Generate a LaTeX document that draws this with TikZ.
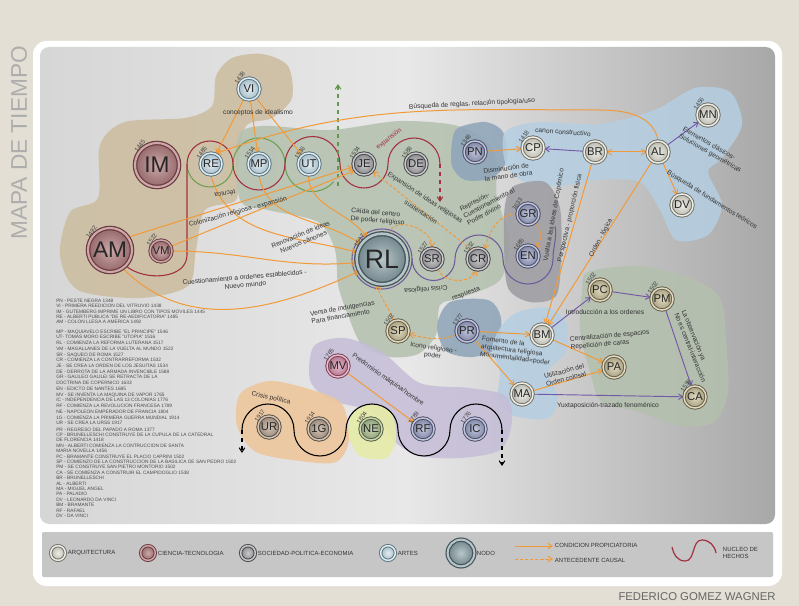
\documentclass[tikz,border=0pt]{standalone}
\usepackage{fontspec}
\setmainfont{Liberation Sans}
\usetikzlibrary{arrows.meta,shadows}

\definecolor{bgbeige}{HTML}{E4DFD5}
\definecolor{panL}{HTML}{D6D6D6}
\definecolor{panM}{HTML}{E8E8E8}
\definecolor{panR}{HTML}{A8A8A8}
\definecolor{legbox}{HTML}{C6C6C6}
\definecolor{orangeE}{HTML}{F29A38}
\definecolor{propE}{HTML}{7458A8}
\definecolor{nucRed}{HTML}{A3303F}
\definecolor{nucGreen}{HTML}{6FA052}
\definecolor{nucPurple}{HTML}{6E5C9C}
\definecolor{greenD}{HTML}{5E9A4A}
% manchas
\definecolor{blTan}{HTML}{CBBC9E}
\definecolor{blSage}{HTML}{B3C0AE}
\definecolor{blSteel}{HTML}{8DA4B9}
\definecolor{blSky}{HTML}{B5CFE2}
\definecolor{blGray}{HTML}{9C9CA1}
\definecolor{blLav}{HTML}{C5BDD7}
\definecolor{blPeach}{HTML}{EDC79D}
\definecolor{blYell}{HTML}{E6EBA8}
% botones
\definecolor{aI}{HTML}{EEEEE8}\definecolor{aO}{HTML}{B9B9AF}\definecolor{aR}{HTML}{707066}
\definecolor{oI}{HTML}{E2DAC0}\definecolor{oO}{HTML}{A69E7E}\definecolor{oR}{HTML}{645E48}
\definecolor{cI}{HTML}{CCA8A8}\definecolor{cO}{HTML}{94686A}\definecolor{cR}{HTML}{6C3A40}
\definecolor{sI}{HTML}{CACACC}\definecolor{sO}{HTML}{88888C}\definecolor{sR}{HTML}{46464A}
\definecolor{bI}{HTML}{C2C6DA}\definecolor{bO}{HTML}{7C82A2}\definecolor{bR}{HTML}{484C68}
\definecolor{rI}{HTML}{E4EEF2}\definecolor{rO}{HTML}{A2BAC6}\definecolor{rR}{HTML}{5A7480}
\definecolor{pI}{HTML}{E8BCCA}\definecolor{pO}{HTML}{B0708A}\definecolor{pR}{HTML}{783E56}
\definecolor{uI}{HTML}{D2C4B6}\definecolor{uO}{HTML}{968676}\definecolor{uR}{HTML}{574B40}
\definecolor{vI}{HTML}{CAD6B6}\definecolor{vO}{HTML}{8A9A74}\definecolor{vR}{HTML}{525E3C}
\definecolor{dI}{HTML}{B8C6CA}\definecolor{dO}{HTML}{708489}\definecolor{dR}{HTML}{44555B}

\pgfdeclarelayer{bg}
\pgfdeclarelayer{links}
\pgfsetlayers{bg,links,main}

\tikzset{
  barb/.tip={Straight Barb[length=3.2pt,width=4.2pt]},
  knot/.style={circle, inner sep=0pt, minimum size=16.5pt, line width=0.7pt,
    double distance=1.1pt, font=\fontsize{8.5}{9}\selectfont, text=black!85,
    drop shadow={shadow xshift=0.7pt, shadow yshift=-0.9pt, opacity=0.3}},
  kn/.style n args={3}{knot, inner color=#1, outer color=#2, draw=#3, double=#1},
  knA/.style={kn={aI}{aO}{aR}},
  knO/.style={kn={oI}{oO}{oR}},
  knC/.style={kn={cI}{cO}{cR}},
  knS/.style={kn={sI}{sO}{sR}},
  knB/.style={kn={bI}{bO}{bR}},
  knR/.style={kn={rI}{rO}{rR}},
  knP/.style={kn={pI}{pO}{pR}},
  knU/.style={kn={uI}{uO}{uR}},
  knV/.style={kn={vI}{vO}{vR}},
  knD/.style={kn={dI}{dO}{dR}},
  big/.style={minimum size=33pt, line width=0.9pt, double distance=1.6pt,
    font=\fontsize{17}{18}\selectfont},
  huge/.style={minimum size=38pt, line width=1pt, double distance=1.9pt,
    font=\fontsize{20}{21}\selectfont},
  yrlbl/.style={rotate=55, anchor=south, inner sep=0.6pt,
    font=\fontsize{4.6}{5}\selectfont, text=black!75},
  lbl/.style={font=\fontsize{5}{5.9}\selectfont, text=black!80, inner sep=0.5pt},
  cond/.style={draw=orangeE, line width=0.75pt, -barb},
  causal/.style={cond, dash pattern=on 2.4pt off 1.4pt},
  prop/.style={draw=propE, line width=0.7pt, -barb},
  nucR/.style={draw=nucRed, line width=0.8pt},
  nucG/.style={draw=nucGreen, line width=0.8pt},
  nucP/.style={draw=nucPurple, line width=0.8pt},
  nucK/.style={draw=black, line width=0.8pt},
  listtxt/.style={anchor=north west, align=left, inner sep=0pt, text=black!70},
  legtxt/.style={anchor=west, inner sep=0.5pt, font=\fontsize{4.5}{5.4}\selectfont, text=black!80},
}

\newcommand\anio[3][125]{\node[yrlbl] (y#2) at (#2.#1) {#3};}

\begin{document}
\begin{tikzpicture}[x=0.75pt,y=-0.75pt]
\useasboundingbox (0,0) rectangle (799,606);

% fondo y manchas
\begin{pgfonlayer}{bg}
\fill[bgbeige] (0,0) rectangle (799,606);
\fill[white, rounded corners=10pt] (33,41) rectangle (782,586);
\shade[left color=panL, right color=panR, middle color=panM, rounded corners=7pt] (40,47) rectangle (775,524);
\fill[legbox, rounded corners=1pt] (42,532) rectangle (773,577);
\fill[blTan, fill opacity=0.85] plot[smooth cycle] coordinates {(232,58) (262,54) (288,66) (292,98) (272,118) (246,126) (238,165) (236,200) (205,210) (196,250) (188,286) (140,298) (78,290) (60,255) (70,212) (98,198) (100,145) (125,122) (185,118) (212,106) (216,76)};
\fill[blSage, fill opacity=0.85] plot[smooth cycle] coordinates {(238,138) (262,126) (330,130) (400,121) (462,127) (494,152) (497,198) (510,240) (500,280) (460,298) (440,305) (436,335) (418,354) (390,357) (362,345) (348,315) (338,285) (335,250) (318,222) (268,210) (240,200)};
\fill[blSteel, fill opacity=0.85] plot[smooth cycle] coordinates {(458,128) (485,122) (503,132) (507,160) (492,178) (465,180) (452,166) (452,142)};
\fill[blSky, fill opacity=0.85] plot[smooth cycle] coordinates {(505,132) (540,122) (600,124) (655,110) (695,88) (730,92) (742,125) (722,158) (708,172) (722,205) (708,235) (676,240) (660,210) (640,182) (600,180) (560,186) (525,182) (506,165)};
\fill[blGray, fill opacity=0.85] plot[smooth cycle] coordinates {(514,186) (545,182) (560,208) (561,258) (556,296) (530,302) (508,288) (504,245) (505,205)};
\fill[blSteel, fill opacity=0.85] plot[smooth cycle] coordinates {(450,302) (488,300) (501,318) (497,348) (472,357) (446,351) (437,326)};
\fill[blSky, fill opacity=0.85] plot[smooth cycle] coordinates {(518,312) (548,308) (566,322) (566,352) (548,372) (558,398) (548,418) (514,416) (498,400) (500,372) (492,350) (500,328)};
\fill[blSage, fill opacity=0.85] plot[smooth cycle] coordinates {(588,272) (640,266) (690,278) (720,298) (726,340) (728,392) (714,422) (680,426) (640,412) (602,402) (590,372) (580,330) (582,292)};
\fill[blLav, fill opacity=0.85] plot[smooth cycle] coordinates {(314,346) (345,338) (382,352) (420,383) (470,388) (506,396) (512,422) (500,450) (460,458) (420,456) (395,442) (372,412) (330,400) (310,380)};
\fill[blPeach, fill opacity=0.9] plot[smooth cycle] coordinates {(240,394) (270,381) (312,390) (342,404) (349,440) (336,462) (300,461) (256,452) (237,426)};
\fill[blYell, fill opacity=0.9] plot[smooth cycle] coordinates {(352,414) (372,404) (392,414) (396,440) (386,458) (360,456) (349,436)};
\end{pgfonlayer}

\node[rotate=90, font=\fontsize{17}{18}\selectfont, text=black!32] (titulo) at (19,143) {MAPA DE TIEMPO};
\node[font=\fontsize{8.5}{9}\selectfont, text=black!60] (autor) at (697,597) {FEDERICO GOMEZ WAGNER};

% nodos
\node[knR] (VI) at (249,89) {VI};
\node[knC,big] (IM) at (157,165) {IM};
\node[knR] (RE) at (211,164) {RE};
\node[knR] (MP) at (259,164) {MP};
\node[knR] (UT) at (309,164) {UT};
\node[knS] (JE) at (364,164) {JE};
\node[knS] (DE) at (416,164) {DE};
\node[knB] (PN) at (475,152) {PN};
\node[knA] (CP) at (533,148) {CP};
\node[knA] (BR) at (595,152) {BR};
\node[knA] (AL) at (658,152) {AL};
\node[knA] (MN) at (708,115) {MN};
\node[knA] (DV) at (682,205) {DV};
\node[knC,big] (AM) at (110,250) {AM};
\node[knC] (VM) at (161,251) {VM};
\node[knD,huge] (RL) at (382,259) {RL};
\node[knS] (SR) at (432,259) {SR};
\node[knS] (CR) at (478,259) {CR};
\node[knB] (GR) at (528,214) {GR};
\node[knB] (EN) at (528,256) {EN};
\node[knO] (SP) at (398,331) {SP};
\node[knB] (PR) at (467,331) {PR};
\node[knA] (BM) at (542,335) {BM};
\node[knO] (PC) at (600,290) {PC};
\node[knO] (PM) at (662,299) {PM};
\node[knO] (PA) at (614,367) {PA};
\node[knA] (MA) at (522,394) {MA};
\node[knO] (CA) at (695,397) {CA};
\node[knP] (MV) at (338,366) {MV};
\node[knU] (UR) at (269,427) {UR};
\node[knU] (G1) at (319,429) {1G};
\node[knV] (NE) at (371,429) {NE};
\node[knB] (RF) at (423,429) {RF};
\node[knB] (IC) at (475,429) {IC};

\anio{VI}{1438} \anio[130]{IM}{1445} \anio{RE}{1485} \anio{MP}{1514}
\anio{UT}{1516} \anio{JE}{1534} \anio{DE}{1588} \anio{PN}{1348}
\anio{CP}{1418} \anio{MN}{1456} \anio[135]{AM}{1492} \anio{VM}{1522}
\anio[140]{RL}{1517} \anio{SR}{1527} \anio{CR}{1532} \anio[135]{GR}{1633}
\anio{EN}{1685} \anio{SP}{1502} \anio{PR}{1377} \anio{PC}{1502}
\anio{PM}{1502} \anio{CA}{1538} \anio{MV}{1765} \anio{UR}{1917}
\anio{G1}{1914} \anio{NE}{1804} \anio{RF}{1789} \anio{IC}{1776}

\coordinate (deEnd) at (440,164);
\coordinate (deDrop) at (440,202);
\coordinate (rlE) at (412,259);
\coordinate (urW) at (242,430);
\coordinate (urDrop) at (242,453);
\coordinate (icE) at (502,430);
\coordinate (icDrop) at (502,466);
\coordinate (gA) at (338,186);
\coordinate (gB) at (338,84);

\begin{pgfonlayer}{links}
% nucleos de hechos
\draw[nucG] (187,164) arc[start angle=180,end angle=360,radius=17.25pt]
  arc[start angle=180,end angle=0,radius=19.5pt]
  arc[start angle=180,end angle=320,radius=20.625pt];
\draw[nucR] (AM.-45) to[out=-40,in=-90] (187,255) -- (187,164)
  arc[start angle=180,end angle=0,radius=17.25pt]
  arc[start angle=180,end angle=360,radius=19.5pt]
  arc[start angle=180,end angle=0,radius=20.625pt]
  arc[start angle=180,end angle=360,radius=18pt]
  arc[start angle=180,end angle=0,radius=19.5pt];
\draw[nucR, dashed, -barb] (deEnd) -- (deDrop);
\draw[nucP] (RL) circle[radius=22.5pt];
\draw[nucP] (rlE) arc[start angle=180,end angle=360,radius=16.125pt]
  arc[start angle=180,end angle=0,radius=18pt]
  arc[start angle=180,end angle=360,radius=18.75pt] to[out=90,in=-80] (555,226);
\draw[nucK] (urW) arc[start angle=180,end angle=0,radius=19.5pt]
  arc[start angle=180,end angle=360,radius=19.5pt]
  arc[start angle=180,end angle=0,radius=19.5pt]
  arc[start angle=180,end angle=360,radius=19.5pt]
  arc[start angle=180,end angle=0,radius=19.5pt];
\draw[nucK, dashed, -barb] (urW) -- (urDrop);
\draw[nucK, dashed, -barb] (icE) -- (icDrop);
\draw[draw=greenD, line width=0.8pt, dashed, -barb] (gA) -- (gB);

% condiciones propiciatorias
\draw[cond] (VI) -- (RE);
\draw[cond] (VI) -- (MP);
\draw[cond] (VI) -- (UT);
\draw[cond] (AL.north) to[out=100,in=0] (600,110) to[out=180,in=20] (RE.65);
\draw[cond] (AM.35) -- (JE.195);
\draw[cond] (VM.25) -- (JE.215);
\draw[cond] (RE.south) to[out=-75,in=165] (RL.165);
\draw[cond] (MP.south) to[out=-80,in=145] (RL.145);
\draw[cond] (UT.-95) to[out=-85,in=125] (RL.125);
\draw[cond] (VM.east) to[out=0,in=185] (RL.188);
\draw[cond] (AM.-55) to[out=-45,in=205] (RL.208);
\draw[cond] (PN) -- (CP);
\draw[cond, barb-barb] (BR) -- (AL);
\draw[cond] (AL) -- (DV);
\draw[cond] (BR) -- (BM);
\draw[cond] (AL) -- (BM);
\draw[cond] (PR) -- (BM);
\draw[cond] (PR) -- (MA);
\draw[cond] (BM) -- (PA);
\draw[cond] (MA) -- (PA);
\draw[cond] (MV) -- (RF);
% antecedentes causales
\draw[causal] (CR.125) -- (JE.-40);
\draw[causal] (RL.75) to[out=75,in=90,looseness=1.1] (SR.north);
\draw[causal] (SR.-60) to[out=-70,in=-110] (CR.-100);
\draw[causal] (GR.west) to[out=180,in=75] (CR.55);
\draw[causal] (GR.-50) to[out=-40,in=40] (EN.50);
\draw[causal] (SP.115) to[out=105,in=-80] (RL.-100);
\draw[causal] (PR.200) to[out=200,in=-15] (SP.-15);
% relaciones de arquitectura
\draw[prop] (BR) -- (CP);
\draw[prop] (AL) -- (MN);
\draw[prop] (BM) -- (PC);
\draw[prop] (PC) -- (PM);
\draw[prop] (PM) -- (CA);
\draw[prop] (MA) -- (CA);
\end{pgfonlayer}

% etiquetas
\node[lbl] (lConc) at (258,113) {conceptos de idealismo};
\node[lbl, rotate=3] (lBusq) at (472,104) {Búsqueda de reglas, relación tipología/uso};
\node[lbl, rotate=190] (lTec) at (225,194) {técnica};
\node[lbl, rotate=15] (lColon) at (238,212) {Colonización religiosa - expansión};
\node[lbl, rotate=22, align=center] (lRenov) at (302,238) {Renovación de ideas\\Nuevos cánones};
\node[lbl, rotate=5, align=center] (lCuest) at (245,281) {Cuestionamiento a ordenes establecidos -\\Nuevo mundo};
\node[lbl, rotate=38, text=nucRed] (lExpan) at (389,139) {expansión};
\node[lbl, rotate=-33] (lExpId) at (425,198) {Expansión de ideas religiosas};
\node[lbl, rotate=-33] (lSust) at (421,212) {sustentación};
\node[lbl, rotate=-5, align=left] (lCaida) at (378,217) {Caída del centro\\De poder religioso};
\node[lbl, rotate=185] (lCrisR) at (426,289) {Crisis religiosa};
\node[lbl, rotate=20] (lResp) at (466,294) {respuesta};
\node[lbl, rotate=28, align=left] (lRepr) at (489,203) {Represión-\\Cuestionamiento al\\Poder divino};
\node[lbl, rotate=8, align=left] (lDism) at (508,172) {Disminución de\\la mano de obra};
\node[lbl, rotate=-4] (lCanon) at (563,132) {canon constructivo};
\node[lbl, rotate=80] (lVuelta) at (554,215) {Vuelta a las ideas de Copérnico};
\node[lbl, rotate=77] (lPersp) at (570,218) {Perspectiva - proporción física};
\node[lbl, rotate=62] (lOrden) at (601,238) {Orden - lógica};
\node[lbl, rotate=-30, align=left] (lElem) at (712,150) {Elementos clásicos-\\Soluciones geométricas};
\node[lbl, rotate=-32] (lBusqF) at (712,200) {Búsqueda de fundamentos teóricos};
\node[lbl, rotate=10, align=left] (lVenta) at (343,312) {Venta de indulgencias\\Para financiamiento};
\node[lbl, rotate=-8, align=center] (lIcono) at (433,352) {Icono religioso -\\poder};
\node[lbl, rotate=-7, align=left] (lFom) at (516,351) {Fomento de la\\arquitectura religiosa\\Monumentalidad=poder};
\node[lbl, rotate=-35] (lPred) at (388,380) {Predominio máquina/hombre};
\node[lbl] (lIntro) at (605,312) {Introducción a los ordenes};
\node[lbl, rotate=5, align=left] (lCentr) at (610,340) {Centralización de espacios\\Repetición de caras};
\node[lbl, rotate=15, align=left] (lUtil) at (565,375) {Utilización del\\Orden colosal};
\node[lbl] (lYux) at (608,406) {Yuxtaposición-trazado fenoménico};
\node[lbl, rotate=-68, align=left] (lObs) at (694,346) {La observación ya\\No es central-interacción};
\node[lbl, rotate=-12] (lCrisP) at (271,398) {Crisis política};

% lista de hechos
\node[listtxt, font=\fontsize{3.6}{4.1}\selectfont] (lista1) at (56,298.5) {PN - PESTE NEGRA 1348\\
VI - PRIMERA REEDICION DEL VITRUVIO 1438\\
IM - GUTEMBERG IMPRIME UN LIBRO CON TIPOS MOVILES 1445\\
RE - ALBERTI PUBLICA "DE RE-AEDIFICATORIA" 1485\\
AM - COLON LLEGA A AMERICA 1492};
\node[listtxt, font=\fontsize{3.6}{4.3}\selectfont] (lista2) at (56,329.5) {MP - MAQUIAVELO ESCRIBE "EL PRINCIPE" 1546\\
UT- TOMAS MORO ESCRIBE "UTOPIA" 1516\\
RL - COMIENZA LA REFORMA LUTERANA 1517\\
VM - MAGALLANES DE LA VUELTA AL MUNDO 1522\\
SR - SAQUEO DE ROMA 1527\\
CR - COMIENZA LA CONTRARREFORMA 1532\\
JE - SE CREA LA ORDEN DE LOS JESUITAS 1534\\
DE - DERROTA DE LA ARMADA INVENCIBLE 1588\\
GR - GALILEO GALILEI SE RETRACTA DE LA\\
DOCTRINA DE COPERNICO 1633\\
EN - EDICTO DE NANTES 1685\\
MV - SE INVENTA LA MAQUINA DE VAPOR 1765\\
IC - INDEPENDENCIA DE LAS 13 COLONIAS 1776\\
RF - COMIENZA LA REVOLUCION FRANCESA 1789\\
NE - NAPOLEON EMPERADOR DE FRANCIA 1804\\
1G - COMIENZA LA PRIMERA GUERRA MUNDIAL 1914\\
UR - SE CREA LA URSS 1917};
\node[listtxt, font=\fontsize{3.6}{4.05}\selectfont] (lista3) at (56,427.5) {PR - REGRESO DEL PAPADO A ROMA 1377\\
CP - BRUNELLESCHI CONSTRUYE DE LA CUPULA DE LA CATEDRAL\\
DE FLORENCIA 1418\\
MN - ALBERTI COMIENZA LA CONTRUCCION DE SANTA\\
MARIA NOVELLA 1456\\
PC - BRAMANTE CONSTRUYE EL PLACIO CAPRINI 1502\\
SP - COMIENZO DE LA CONSTRUCCION DE LA BASILICA DE SAN PEDRO 1502\\
PM - SE CONSTRUYE SAN PIETRO MONTORIO 1502\\
CA - SE COMIENZA A CONSTRUIR EL CAMPIDOGLIO 1538\\
BR - BRUNELLESCHI\\
AL - ALBERTI\\
MA - MIGUEL ANGEL\\
PA - PALADIO\\
DV - LEONARDO DA VINCI\\
BM - BRAMANTE\\
RF - RAFAEL\\
DV - DA VINCI};

% leyenda
\node[knA, minimum size=11pt] (legA) at (58,553) {};
\node[legtxt] (legAt) at (67,553) {ARQUITECTURA};
\node[knC, minimum size=11pt] (legC) at (148,553) {};
\node[legtxt] (legCt) at (157,553) {CIENCIA-TECNOLOGIA};
\node[knS, minimum size=11pt] (legS) at (248,553) {};
\node[legtxt] (legSt) at (257,553) {SOCIEDAD-POLITICA-ECONOMIA};
\node[knR, minimum size=11pt] (legR) at (388,553) {};
\node[legtxt] (legRt) at (397,553) {ARTES};
\node[knD, minimum size=20pt, line width=0.9pt, double distance=1.5pt] (legN) at (461,553) {};
\node[legtxt] (legNt) at (476,553) {NODO};
\coordinate (lgA1) at (515,546);
\coordinate (lgA2) at (553,546);
\coordinate (lgB1) at (515,559);
\coordinate (lgB2) at (553,559);
\draw[cond] (lgA1) -- (lgA2);
\draw[causal] (lgB1) -- (lgB2);
\node[legtxt] (legPt) at (554,545) {CONDICION PROPICIATORIA};
\node[legtxt] (legCa) at (554,560) {ANTECEDENTE CAUSAL};
\coordinate (lgS1) at (672,547);
\coordinate (lgS2) at (716,553);
\draw[nucR, line width=0.9pt] (lgS1) to[out=-80,in=180] (685,561) to[out=0,in=180] (702,540) to[out=0,in=100] (lgS2);
\node[legtxt, align=left] (legNu) at (722,553) {NUCLEO DE\\HECHOS};
\end{tikzpicture}
\end{document}
